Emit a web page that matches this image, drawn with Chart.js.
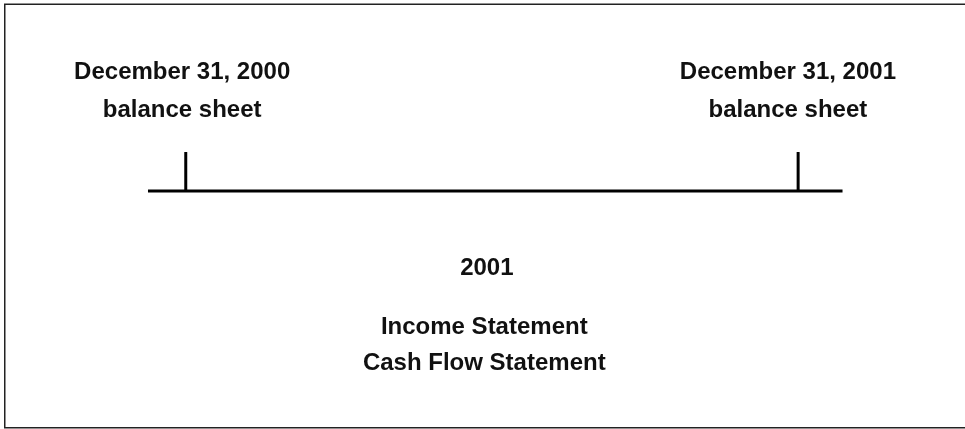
<!DOCTYPE html>
<html>
<head>
<meta charset="utf-8">
<script src="https://cdn.jsdelivr.net/npm/chart.js@4/dist/chart.umd.min.js"></script>
<style>
  html, body { margin: 0; padding: 0; background: #fff; }
  #wrap { width: 965px; height: 429px; position: relative; }
</style>
</head>
<body>
<div id="wrap"><canvas id="c" width="965" height="429"></canvas></div>
<script>
// Timeline in months from Dec 31, 2000
const timelineStart = -0.74;
const timelineEnd = 12.87;
const markerMonths = [0, 12];
const markerHeight = 1;

// Labels: text, x (months), y (rows, timeline at 0)
const topLabels = ["December 31, 2000", "December 31, 2001"];
const topLabelX = [-0.07, 11.8];
const topLine1Y = 3.03;
const topLine2Y = 2.08;
const topLine2Text = ["balance sheet", "balance sheet"];

const periodLabel = "2001";
const periodX = 5.9;
const periodY = -1.97;
const statementLabels = ["Income Statement", "Cash Flow Statement"];
const statementX = 5.85;
const statementY = [-3.49, -4.42];

const datasets = [
  {
    data: [{x: timelineStart, y: 0}, {x: timelineEnd, y: 0}],
  },
  ...markerMonths.map(m => ({ data: [{x: m, y: 0}, {x: m, y: markerHeight}] }))
].map(d => Object.assign(d, {
  showLine: true, borderColor: '#000', borderWidth: 3, pointRadius: 0,
  borderCapStyle: 'butt', fill: false, tension: 0
}));

const textPlugin = {
  id: 'texts',
  afterDatasetsDraw(chart) {
    const ctx = chart.ctx;
    const xs = chart.scales.x, ys = chart.scales.y;
    ctx.save();
    ctx.fillStyle = '#111';
    ctx.textAlign = 'center';
    ctx.textBaseline = 'middle';
    ctx.font = 'bold 24px "Liberation Sans", Arial, sans-serif';
    topLabels.forEach((t, i) => {
      ctx.fillText(t, xs.getPixelForValue(topLabelX[i]), ys.getPixelForValue(topLine1Y));
      ctx.fillText(topLine2Text[i], xs.getPixelForValue(topLabelX[i]), ys.getPixelForValue(topLine2Y));
    });
    ctx.fillText(periodLabel, xs.getPixelForValue(periodX), ys.getPixelForValue(periodY));
    statementLabels.forEach((t, i) => {
      ctx.fillText(t, xs.getPixelForValue(statementX), ys.getPixelForValue(statementY[i]));
    });
    // frame (right edge falls outside the picture)
    ctx.strokeStyle = '#222';
    ctx.lineWidth = 1.5;
    ctx.strokeRect(4.75, 4.25, 965, 423.5);
    ctx.restore();
  }
};

new Chart(document.getElementById('c'), {
  type: 'scatter',
  data: { datasets },
  options: {
    responsive: false,
    animation: false,
    layout: { padding: 0 },
    plugins: { legend: { display: false }, tooltip: { enabled: false } },
    scales: {
      x: { type: 'linear', display: false, min: -3.64, max: 15.27 },
      y: { type: 'linear', display: false, min: -6.10, max: 4.897 }
    }
  },
  plugins: [textPlugin]
});
</script>
</body>
</html>
